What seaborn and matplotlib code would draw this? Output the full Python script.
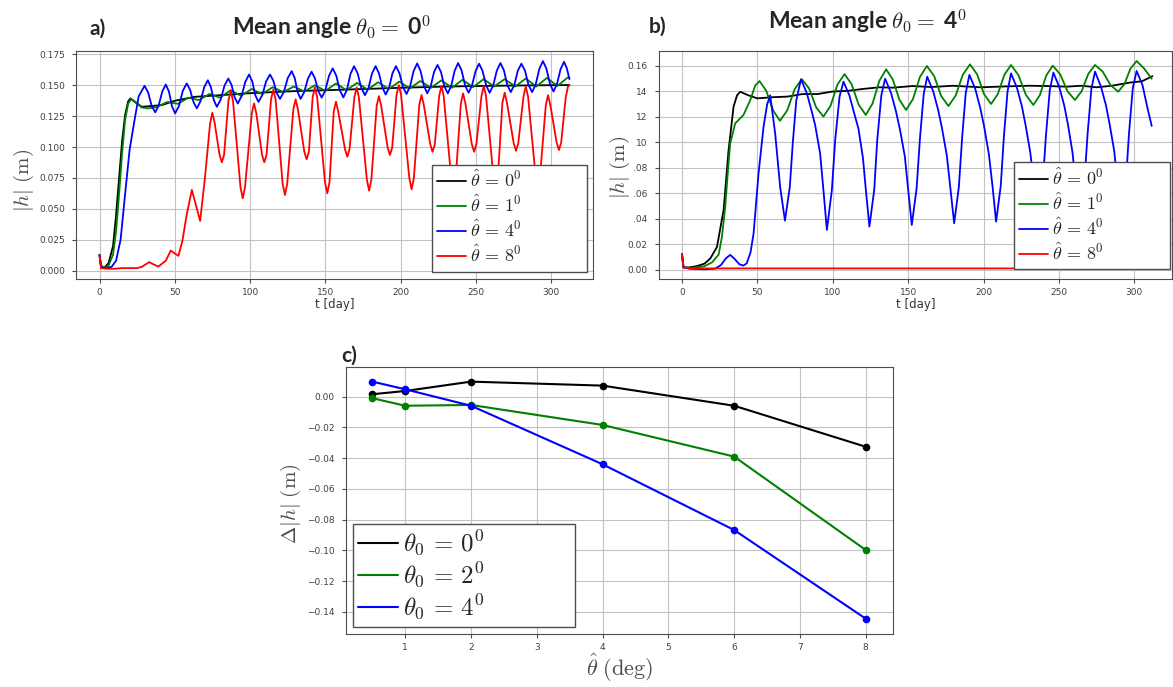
import matplotlib
matplotlib.use("Agg")
import matplotlib.pyplot as plt
import seaborn as sns

# ---------------- data: panel a (theta0 = 0) ----------------
a_labels = [r"$\hat{\theta}\,=\,0^0$", r"$\hat{\theta}\,=\,1^0$", r"$\hat{\theta}\,=\,4^0$", r"$\hat{\theta}\,=\,8^0$"]
a0_t = [0, 1, 3, 6, 9, 11, 13, 15, 17, 19, 20.5, 24, 28.1, 35, 41.4, 50, 63.5, 80, 96.6, 115, 129.8, 150, 167.4, 200, 230, 260, 290, 312]
a0_h = [0.0127, 0.004, 0.002, 0.006, 0.02, 0.045, 0.075, 0.105, 0.126, 0.137, 0.1394, 0.136, 0.1326, 0.1333, 0.134, 0.1375, 0.1407, 0.142, 0.1434, 0.1445, 0.1453, 0.146, 0.1467, 0.148, 0.149, 0.1496, 0.150, 0.1502]
a1_t = [0, 1, 3, 6, 9, 11, 13, 15, 17, 19, 21, 24, 28, 32.5, 38, 45, 52, 59, 66, 73, 80, 87, 94, 101, 108, 115, 122, 129, 136, 143, 150, 157, 164, 171, 178, 185, 192, 199, 206, 213, 220, 227, 234, 241, 248, 255, 262, 269, 276, 283, 290, 297, 304, 311, 312]
a1_h = [0.0127, 0.004, 0.002, 0.004, 0.013, 0.032, 0.062, 0.095, 0.122, 0.135, 0.139, 0.1365, 0.132, 0.1313, 0.1325, 0.1365, 0.135, 0.140, 0.138, 0.143, 0.140, 0.146, 0.1415, 0.147, 0.143, 0.1485, 0.1445, 0.149, 0.145, 0.150, 0.1455, 0.1515, 0.146, 0.152, 0.1465, 0.1525, 0.147, 0.153, 0.1475, 0.1535, 0.148, 0.154, 0.148, 0.1545, 0.1485, 0.155, 0.149, 0.155, 0.149, 0.1555, 0.149, 0.156, 0.1495, 0.1565, 0.156]
a4_t = [0, 1, 4, 8, 11, 14, 17, 20, 23, 26,
        29.9, 32.3, 34.6, 37, 39.3, 41.7,
        44, 46.1, 48.1, 50.2, 52.8, 55.3,
        57.9, 60.1, 62.4, 64.6, 67.0, 69.5,
        71.9, 73.9, 75.9, 77.9, 80.4, 83.0,
        85.5, 87.6, 89.7, 91.8, 94.3, 96.8,
        99.3, 101.4, 103.4, 105.5, 108.1, 110.6,
        113.2, 115.4, 117.6, 119.8, 122.4, 125.0,
        127.6, 129.6, 131.5, 133.5, 135.9, 138.4,
        140.8, 143.0, 145.3, 147.5, 149.9, 152.4,
        154.8, 157.2, 159.5, 161.9, 164.3, 166.6,
        169, 171.4, 173.8, 176.2, 178.6, 180.9,
        183.3, 185.5, 187.8, 190, 192.3, 194.5,
        196.8, 199.1, 201.5, 203.8, 206.2, 208.5,
        210.9, 213.1, 215.4, 217.6, 219.9, 222.1,
        224.4, 226.7, 228.9, 231.2, 233.5, 235.8,
        238.1, 240.4, 242.7, 245, 247.3, 249.7,
        252, 254.3, 256.7, 259, 261.4, 263.8,
        266.2, 268.5, 270.7, 273, 275.4, 277.7,
        280.1, 282.5, 284.8, 287.2, 289.6, 292.0,
        294.4, 296.7, 299.1, 301.4, 303.7, 306.1,
        308.4, 310.2, 312]
a4_h = [0.0127, 0.003, 0.002, 0.003, 0.008, 0.025, 0.062, 0.098, 0.120, 0.141,
        0.1496, 0.1442, 0.1335, 0.1281, 0.1338, 0.1451,
        0.1507, 0.1449, 0.1331, 0.1273, 0.1334, 0.1455,
        0.1515, 0.1465, 0.1364, 0.1313, 0.1370, 0.1484,
        0.1541, 0.1487, 0.1380, 0.1326, 0.1383, 0.1498,
        0.1555, 0.1505, 0.1404, 0.1353, 0.1412, 0.1529,
        0.1587, 0.1532, 0.1421, 0.1366, 0.1421, 0.1532,
        0.1587, 0.1538, 0.1439, 0.139, 0.1446, 0.1559,
        0.1615, 0.1559, 0.1446, 0.139, 0.1445, 0.1555,
        0.161, 0.1558, 0.1453, 0.140, 0.1459, 0.1578,
        0.1637, 0.1578, 0.1461, 0.1402, 0.1465, 0.1592,
        0.1655, 0.1596, 0.1479, 0.142, 0.1479, 0.1596,
        0.1655, 0.1598, 0.1483, 0.1425, 0.1483, 0.1598,
        0.1655, 0.1599, 0.1486, 0.143, 0.1492, 0.1615,
        0.1677, 0.1617, 0.1496, 0.1435, 0.1493, 0.1608,
        0.1665, 0.1608, 0.1493, 0.1435, 0.1496, 0.1619,
        0.168, 0.162, 0.150, 0.144, 0.1499, 0.1616,
        0.1675, 0.1616, 0.1499, 0.144, 0.150, 0.162,
        0.168, 0.1621, 0.1504, 0.1445, 0.1502, 0.1618,
        0.1675, 0.1618, 0.1503, 0.1445, 0.1508, 0.1633,
        0.1696, 0.1635, 0.1511, 0.145, 0.151, 0.163,
        0.169, 0.164, 0.155]
a8_t = [0, 1, 5, 10, 15, 20, 25, 28, 33, 39, 44, 47.3, 52.4, 55, 58, 61.3, 66.8, 70,
        73.4, 74.9, 76.4, 79.7, 81.2, 82.7, 85.6, 87.1, 88.6, 93.6, 95.1, 96.6,
        101.1, 102.6, 104.1, 107.9, 109.4, 110.9, 113.9, 115.4, 116.9, 121.6, 123.1, 124.6,
        128.7, 130.2, 131.7, 136, 137.5, 139, 141.5, 143, 144.5, 149.7, 151.2, 152.7,
        155.5, 157, 158.5, 163, 164.5, 166, 169.2, 170.7, 172.2, 177.5, 179, 180.5,
        184, 185.5, 187, 191.3, 192.8, 194.3, 197.2, 198.7, 200.2, 205.7, 207.2, 208.7,
        212.3, 213.8, 215.3, 219.6, 221.1, 222.6, 225.5, 227, 228.5, 233.5, 235, 236.5,
        239.9, 241.4, 242.9, 247.2, 248.7, 250.2, 253.6, 255.1, 256.6, 261.5, 263, 264.5,
        267.5, 269, 270.5, 275, 276.5, 278, 281.5, 283, 284.5, 289.5, 291, 292.5,
        296.3, 297.8, 299.3, 303.5, 305, 306.5, 309.5, 311, 312]
a8_h = [0.0127, 0.002, 0.0015, 0.0015, 0.002, 0.002, 0.002, 0.003, 0.0068, 0.0032, 0.008, 0.0162, 0.0119, 0.024, 0.046, 0.0653, 0.0402, 0.075,
        0.119, 0.1278, 0.120, 0.0937, 0.0877, 0.0937, 0.1376, 0.1456, 0.1376, 0.0675, 0.0585, 0.0675,
        0.1273, 0.1353, 0.1273, 0.0937, 0.0877, 0.0937, 0.1387, 0.1467, 0.1387, 0.0702, 0.0612, 0.0702,
        0.1306, 0.1386, 0.1306, 0.0961, 0.0901, 0.0961, 0.1403, 0.1483, 0.1403, 0.0716, 0.0626, 0.0716,
        0.1287, 0.1367, 0.1287, 0.0982, 0.0922, 0.0982, 0.1403, 0.1483, 0.1403, 0.0737, 0.0647, 0.0737,
        0.1333, 0.1413, 0.1333, 0.0996, 0.0936, 0.0996, 0.1422, 0.1502, 0.1422, 0.0748, 0.0658, 0.0748,
        0.1341, 0.1421, 0.1341, 0.1022, 0.0962, 0.1022, 0.1414, 0.1494, 0.1414, 0.075, 0.066, 0.075,
        0.1354, 0.1434, 0.1354, 0.1022, 0.0962, 0.1022, 0.1414, 0.1494, 0.1414, 0.076, 0.067, 0.076,
        0.136, 0.144, 0.136, 0.103, 0.097, 0.103, 0.141, 0.149, 0.141, 0.077, 0.068, 0.077,
        0.134, 0.142, 0.134, 0.1036, 0.0976, 0.1036, 0.140, 0.149, 0.150]

# ---------------- data: panel b (theta0 = 4) ----------------
b0_t = [0, 1, 5, 10, 15, 18.8, 23.2, 27.6, 30.9, 34.2, 36.5, 38.6, 44, 50, 60, 70, 80, 90, 100, 110, 120, 131, 140, 153, 165, 180, 198, 215, 230, 242, 255, 265, 275, 285, 297, 305, 312]
b0_h = [0.0125, 0.002, 0.002, 0.003, 0.005, 0.009, 0.018, 0.047, 0.094, 0.128, 0.137, 0.1398, 0.137, 0.1346, 0.1355, 0.136, 0.138, 0.138, 0.140, 0.1405, 0.142, 0.1433, 0.143, 0.1443, 0.1435, 0.1445, 0.1433, 0.144, 0.1445, 0.1443, 0.1438, 0.1445, 0.1433, 0.1445, 0.147, 0.148, 0.152]
b1_t = [0, 1, 5, 10, 15, 20, 24.3, 26.5, 28.7, 30.5, 32, 35.3, 40.8, 45.3, 48.5, 51.4, 55.9, 60.5, 65, 69.8, 74.7, 79.5, 84.3, 89, 93.8, 98.5, 103.1, 107.8, 112.5, 117.2, 121.9, 126.4, 130.9, 135.4, 139.8, 144.2, 148.6, 153.2, 157.8, 162.4, 167.2, 171.9, 176.7, 181.5, 186.2, 191, 195.7, 200.3, 205, 209.4, 213.8, 218.2, 223.1, 228.1, 233, 237.3, 241.6, 245.9, 250.8, 255.7, 260.6, 265, 269.5, 273.9, 279, 284.2, 289.3, 293.4, 297.4, 301.5, 306.5, 311.5]
b1_h = [0.0125, 0.002, 0.0015, 0.002, 0.003, 0.006, 0.012, 0.026, 0.0497, 0.078, 0.0993, 0.115, 0.1216, 0.1333, 0.1445, 0.1482, 0.1405, 0.125, 0.117, 0.1252, 0.1418, 0.1496, 0.1424, 0.1275, 0.1203, 0.1287, 0.1454, 0.1537, 0.1457, 0.1296, 0.1216, 0.1306, 0.1484, 0.1574, 0.1494, 0.1335, 0.1255, 0.1341, 0.1514, 0.160, 0.1522, 0.1364, 0.1286, 0.1368, 0.1531, 0.1613, 0.1535, 0.138, 0.1302, 0.1379, 0.1531, 0.1608, 0.1529, 0.1373, 0.1294, 0.1371, 0.1526, 0.1603, 0.1535, 0.1401, 0.1333, 0.1402, 0.1539, 0.1608, 0.1556, 0.145, 0.1398, 0.1458, 0.1579, 0.1639, 0.158, 0.150]
b4_t = [0, 1, 5, 15, 22, 26, 29, 32, 35, 38, 40.8, 43, 45.5, 47.5, 50.8, 54.1, 56.5, 58.5, 61.8, 65.1, 68.3, 71.5, 73.5, 75.8, 78.9,
        82.8, 86.1, 88.3, 91.6, 93.8, 96.1, 99.4, 101.6, 104.5, 107.1,
        111, 114.3, 117, 120, 122, 124.3, 127.5, 129.5, 132.2, 134.7,
        138.6, 141.9, 144.5, 147.8, 150, 152.4, 155.6, 157.8, 160.3, 162.6,
        166.5, 169.8, 172.3, 175.6, 178, 180.5, 183.6, 185.8, 188.2, 190.6,
        194.5, 197.8, 200.3, 203.5, 206, 208.3, 211.4, 213.5, 215.9, 218.2,
        222.1, 225.4, 227.8, 231, 233.5, 236, 239.2, 241.4, 243.9, 246.3,
        250.2, 253.5, 255.9, 259, 261.2, 263.5, 266.8, 269, 271.5, 273.9,
        277.8, 281.1, 283.5, 286.7, 288.8, 291, 294.3, 296.5, 299, 301.5,
        305.4, 308.7, 311.5]
b4_h = [0.0125, 0.002, 0.001, 0.0005, 0.001, 0.004, 0.009, 0.0118, 0.0085, 0.0045, 0.0034, 0.0053, 0.014, 0.0288, 0.076, 0.1124, 0.130, 0.137, 0.107, 0.065, 0.0387, 0.065, 0.100, 0.133, 0.1496,
        0.1386, 0.1242, 0.1137, 0.0915, 0.0627, 0.0314, 0.0627, 0.102, 0.136, 0.1477,
        0.137, 0.1225, 0.111, 0.088, 0.062, 0.034, 0.063, 0.102, 0.137, 0.150,
        0.139, 0.1245, 0.1105, 0.089, 0.063, 0.0353, 0.064, 0.103, 0.138, 0.1516,
        0.1405, 0.126, 0.112, 0.090, 0.064, 0.0366, 0.065, 0.104, 0.139, 0.153,
        0.142, 0.127, 0.113, 0.091, 0.065, 0.0379, 0.066, 0.105, 0.140, 0.1542,
        0.143, 0.1285, 0.114, 0.092, 0.066, 0.039, 0.067, 0.106, 0.141, 0.1548,
        0.1435, 0.129, 0.1145, 0.092, 0.066, 0.040, 0.068, 0.107, 0.142, 0.1556,
        0.144, 0.1295, 0.115, 0.093, 0.067, 0.040, 0.068, 0.108, 0.143, 0.1561,
        0.145, 0.127, 0.113]
b8_t = [0, 1, 5, 312]
b8_h = [0.0125, 0.002, 0.0012, 0.0012]

# ---------------- data: panel c ----------------
c_labels = [r"$\theta_0\,=\,0^0$", r"$\theta_0\,=\,2^0$", r"$\theta_0\,=\,4^0$"]
c_x = [0.5, 1, 2, 4, 6, 8]
c_0 = [0.0016, 0.0037, 0.0098, 0.0072, -0.0059, -0.0326]
c_2 = [-0.001, -0.0059, -0.0054, -0.0184, -0.039, -0.0998]
c_4 = [0.0098, 0.0048, -0.0059, -0.044, -0.0868, -0.1445]

# tick labels
a_yticks = [0, 0.025, 0.05, 0.075, 0.1, 0.125, 0.15, 0.175]
a_yticklabels = ["0.000", "0.025", "0.050", "0.075", "0.100", "0.125", "0.150", "0.175"]
b_yticks = [0, 0.02, 0.04, 0.06, 0.08, 0.10, 0.12, 0.14, 0.16]
b_yticklabels = ["0.00", "0.02", ".04", ".06", ".08", "10", "12", "14", "0.16"]
t_ticks = [0, 50, 100, 150, 200, 250, 300]
c_xticks = [1, 2, 3, 4, 5, 6, 7, 8]
c_yticks = [0.0, -0.02, -0.04, -0.06, -0.08, -0.10, -0.12, -0.14]
c_yticklabels = ["0.00", "\u22120.02", "\u22120.04", "\u22120.06", "\u22120.08", "\u22120.10", "\u22120.12", "\u22120.14"]

colors4 = ["black", "#008000", "#0000ff", "#ff0000"]
colors3 = ["black", "#008000", "#0000ff"]

# ---------------- style ----------------
sns.set_style("whitegrid", {"axes.edgecolor": "0.3", "grid.color": "0.76",
                            "axes.linewidth": 1.1, "grid.linewidth": 0.9})
plt.rcParams["font.family"] = ["DejaVu Sans"]
plt.rcParams["mathtext.fontset"] = "cm"

fig = plt.figure(figsize=(11.73, 6.87), dpi=100)
ax_a = fig.add_axes([0.0648, 0.5939, 0.4407, 0.3319])
ax_b = fig.add_axes([0.5616, 0.5939, 0.4376, 0.3323])
ax_c = fig.add_axes([0.2950, 0.0771, 0.4666, 0.3882])


def draw(ax, t, h, color, label, lw=1.3, **kw):
    sns.lineplot(x=t, y=h, color=color, linewidth=lw, label=label, ax=ax,
                 estimator=None, sort=False, **kw)


def style_ticks(ax):
    ax.tick_params(axis="both", which="both", bottom=True, left=True, length=3,
                   color="0.3", labelsize=6.5, labelcolor="0.25")
    ax.tick_params(axis="y", pad=5)


def make_legend(ax, x0, y0, w, fs, ls, bp):
    leg = ax.legend(loc="lower left", bbox_to_anchor=(x0, y0, w, 0), mode="expand",
                    borderaxespad=0, fontsize=fs, labelspacing=ls, handlelength=1.6,
                    handletextpad=0.2, borderpad=bp, fancybox=False, framealpha=1,
                    edgecolor="0.3")
    leg.get_frame().set_linewidth(1.0)
    return leg


# panel a
for t, h, c, lab in zip([a0_t, a1_t, a4_t, a8_t], [a0_h, a1_h, a4_h, a8_h], colors4, a_labels):
    draw(ax_a, t, h, c, lab)
ax_a.set_xlim(-15.6, 327.6)
ax_a.set_ylim(-0.0068, 0.1778)
ax_a.set_xticks(t_ticks)
ax_a.set_yticks(a_yticks)
ax_a.set_yticklabels(a_yticklabels)
style_ticks(ax_a)
ax_a.set_xlabel("t [day]", fontsize=8.5, color="0.2", labelpad=1)
ax_a.set_ylabel(r"$|h|\ \mathrm{(m)}$", fontsize=15, color="0.3")
ax_a.yaxis.set_label_coords(-0.078, 0.43)
make_legend(ax_a, 0.688, 0.032, 0.300, 13, 0.22, 0.3)

# panel b
for t, h, c, lab in zip([b0_t, b1_t, b4_t, b8_t], [b0_h, b1_h, b4_h, b8_h], colors4, a_labels):
    draw(ax_b, t, h, c, lab)
ax_b.set_xlim(-15.4, 325)
ax_b.set_ylim(-0.0071, 0.172)
ax_b.set_xticks(t_ticks)
ax_b.set_yticks(b_yticks)
ax_b.set_yticklabels(b_yticklabels)
style_ticks(ax_b)
ax_b.set_xlabel("t [day]", fontsize=8.5, color="0.2", labelpad=1)
ax_b.set_ylabel(r"$|h|\ \mathrm{(m)}$", fontsize=15, color="0.3")
ax_b.yaxis.set_label_coords(-0.052, 0.49)
make_legend(ax_b, 0.692, 0.0425, 0.304, 13, 0.22, 0.3)

# panel c
for y, c, lab in zip([c_0, c_2, c_4], colors3, c_labels):
    draw(ax_c, c_x, y, c, lab, lw=1.5, marker="o", markersize=5.5, markeredgewidth=0)
ax_c.set_xlim(0.1, 8.42)
ax_c.set_ylim(-0.1545, 0.0191)
ax_c.set_xticks(c_xticks)
ax_c.set_yticks(c_yticks)
ax_c.set_yticklabels(c_yticklabels)
style_ticks(ax_c)
ax_c.set_xlabel(r"$\hat{\theta}\ \mathrm{(deg)}$", fontsize=16, color="0.3")
ax_c.xaxis.set_label_coords(0.5, -0.068)
ax_c.set_ylabel(r"$\Delta|h|\ \mathrm{(m)}$", fontsize=15, color="0.3")
ax_c.yaxis.set_label_coords(-0.079, 0.49)
leg = make_legend(ax_c, 0.0122, 0.0274, 0.406, 18, 0.1, 0.2)
for line in leg.get_lines():
    line.set_marker("")

# titles and panel letters
fig.text(0.283, 0.959, r"Mean angle $\theta_0 =$ 0$^{\mathbf{0}}$", ha="center", va="center",
         fontsize=16.5, fontweight="bold", family=["Lato", "DejaVu Sans"])
fig.text(0.740, 0.968, r"Mean angle $\theta_0 =$ 4$^{\mathbf{0}}$", ha="center", va="center",
         fontsize=16.5, fontweight="bold", family=["Lato", "DejaVu Sans"])
fig.text(0.0835, 0.959, "a)", ha="center", va="center", fontsize=15, fontweight="bold",
         family=["Lato", "DejaVu Sans"])
fig.text(0.5610, 0.961, "b)", ha="center", va="center", fontsize=15, fontweight="bold",
         family=["Lato", "DejaVu Sans"])
fig.text(0.2975, 0.483, "c)", ha="center", va="center", fontsize=15, fontweight="bold",
         family=["Lato", "DejaVu Sans"])

fig.savefig("out.png", dpi=100, facecolor="white")
